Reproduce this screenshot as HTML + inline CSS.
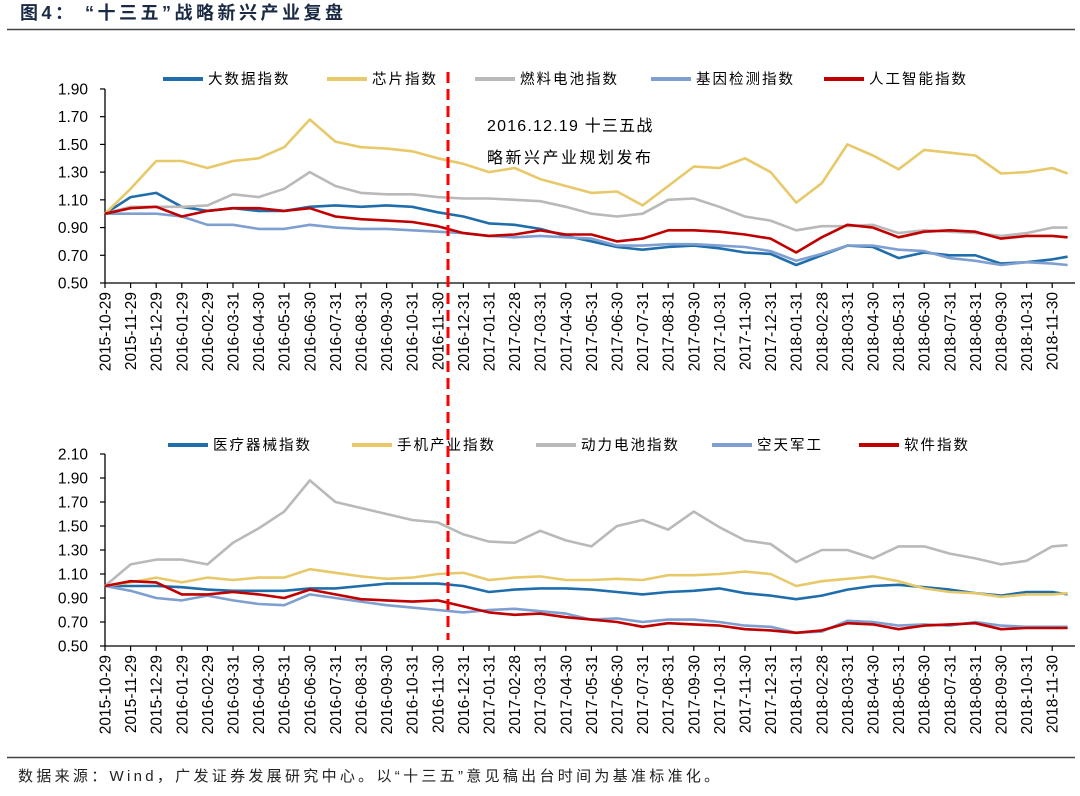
<!DOCTYPE html>
<html><head><meta charset="utf-8">
<style>
html,body{margin:0;padding:0;background:#fff;}
body{width:1080px;height:791px;overflow:hidden;font-family:"Liberation Sans","Noto Sans CJK SC",sans-serif;}
svg text{font-family:"Liberation Sans","Noto Sans CJK SC",sans-serif;}
</style></head>
<body>
<svg id="chart" width="1080" height="791" viewBox="0 0 1080 791" xmlns="http://www.w3.org/2000/svg">
<text x="20" y="19" font-size="18" font-weight="bold" fill="#1a2a44" letter-spacing="3.5">图4：  “十三五”战略新兴产业复盘</text>
<line x1="7" y1="29.5" x2="1075" y2="29.5" stroke="#444" stroke-width="1.5"/>
<line x1="7" y1="757.5" x2="1075" y2="757.5" stroke="#444" stroke-width="1.5"/>
<text x="18" y="781" font-size="15" fill="#222" letter-spacing="3.3">数据来源：Wind，广发证券发展研究中心。以“十三五”意见稿出台时间为基准标准化。</text>
<g id="top"></g>
<g id="bottom"></g>
<line x1="448" y1="72" x2="448" y2="640" stroke="#ff0000" stroke-width="3" stroke-dasharray="11,6"/>
<text x="487" y="131" font-size="16" fill="#000" letter-spacing="1.2">2016.12.19 十三五战</text>
<text x="487" y="163" font-size="16" fill="#000" letter-spacing="2.5">略新兴产业规划发布</text>
</svg>
<script>
const months = ["2015-10-29","2015-11-29","2015-12-29","2016-01-29","2016-02-29","2016-03-31","2016-04-30","2016-05-31","2016-06-30","2016-07-31","2016-08-31","2016-09-30","2016-10-31","2016-11-30","2016-12-31","2017-01-31","2017-02-28","2017-03-31","2017-04-30","2017-05-31","2017-06-30","2017-07-31","2017-08-31","2017-09-30","2017-10-31","2017-11-30","2017-12-31","2018-01-31","2018-02-28","2018-03-31","2018-04-30","2018-05-31","2018-06-30","2018-07-31","2018-08-31","2018-09-30","2018-10-31","2018-11-30"];
const endMonth = 37.6;
const topTicks = ["0.50","0.70","0.90","1.10","1.30","1.50","1.70","1.90"];
const bottomTicks = ["0.50","0.70","0.90","1.10","1.30","1.50","1.70","1.90","2.10"];

const bigData = [1.00,1.12,1.15,1.05,1.02,1.04,1.02,1.02,1.05,1.06,1.05,1.06,1.05,1.01,0.98,0.93,0.92,0.89,0.84,0.80,0.76,0.74,0.76,0.77,0.75,0.72,0.71,0.63,0.70,0.77,0.76,0.68,0.72,0.70,0.70,0.64,0.65,0.67,0.69];
const chip = [1.00,1.18,1.38,1.38,1.33,1.38,1.40,1.48,1.68,1.52,1.48,1.47,1.45,1.40,1.36,1.30,1.33,1.25,1.20,1.15,1.16,1.06,1.20,1.34,1.33,1.40,1.30,1.08,1.22,1.50,1.42,1.32,1.46,1.44,1.42,1.29,1.30,1.33,1.29];
const fuelCell = [1.00,1.05,1.05,1.05,1.06,1.14,1.12,1.18,1.30,1.20,1.15,1.14,1.14,1.12,1.11,1.11,1.10,1.09,1.05,1.00,0.98,1.00,1.10,1.11,1.05,0.98,0.95,0.88,0.91,0.91,0.92,0.86,0.88,0.87,0.86,0.84,0.86,0.90,0.90];
const gene = [1.00,1.00,1.00,0.98,0.92,0.92,0.89,0.89,0.92,0.90,0.89,0.89,0.88,0.87,0.86,0.84,0.83,0.84,0.83,0.82,0.77,0.77,0.78,0.78,0.77,0.76,0.73,0.66,0.71,0.77,0.77,0.74,0.73,0.68,0.66,0.63,0.65,0.64,0.63];
const ai = [1.00,1.04,1.05,0.98,1.02,1.04,1.04,1.02,1.04,0.98,0.96,0.95,0.94,0.91,0.86,0.84,0.85,0.88,0.85,0.85,0.80,0.82,0.88,0.88,0.87,0.85,0.82,0.72,0.83,0.92,0.90,0.83,0.87,0.88,0.87,0.82,0.84,0.84,0.83];

const medical = [1.00,1.00,1.00,0.99,0.97,0.96,0.96,0.96,0.98,0.98,1.00,1.02,1.02,1.02,1.00,0.95,0.97,0.98,0.98,0.97,0.95,0.93,0.95,0.96,0.98,0.94,0.92,0.89,0.92,0.97,1.00,1.01,0.99,0.97,0.94,0.92,0.95,0.95,0.93];
const phone = [1.00,1.03,1.07,1.03,1.07,1.05,1.07,1.07,1.14,1.11,1.08,1.06,1.07,1.10,1.11,1.05,1.07,1.08,1.05,1.05,1.06,1.05,1.09,1.09,1.10,1.12,1.10,1.00,1.04,1.06,1.08,1.04,0.98,0.95,0.94,0.91,0.93,0.93,0.94];
const battery = [1.00,1.18,1.22,1.22,1.18,1.36,1.48,1.62,1.88,1.70,1.65,1.60,1.55,1.53,1.43,1.37,1.36,1.46,1.38,1.33,1.50,1.55,1.47,1.62,1.49,1.38,1.35,1.20,1.30,1.30,1.23,1.33,1.33,1.27,1.23,1.18,1.21,1.33,1.34];
const aerospace = [1.00,0.96,0.90,0.88,0.92,0.88,0.85,0.84,0.93,0.90,0.87,0.84,0.82,0.80,0.78,0.80,0.81,0.79,0.77,0.72,0.73,0.70,0.72,0.72,0.70,0.67,0.66,0.61,0.62,0.71,0.70,0.67,0.68,0.67,0.70,0.67,0.66,0.66,0.66];
const software = [1.00,1.04,1.03,0.93,0.93,0.95,0.93,0.90,0.97,0.93,0.89,0.88,0.87,0.88,0.83,0.78,0.76,0.77,0.74,0.72,0.70,0.66,0.69,0.68,0.67,0.64,0.63,0.61,0.63,0.69,0.68,0.64,0.67,0.68,0.69,0.64,0.65,0.65,0.65];

const NS = "http://www.w3.org/2000/svg";
const C = {blue:"#1f6dab", yellow:"#e8c96a", gray:"#b9b9b9", light:"#7f9fd1", red:"#c00000"};
function el(tag, attrs, parent){const e=document.createElementNS(NS,tag);for(const k in attrs)e.setAttribute(k,attrs[k]);parent.appendChild(e);return e;}
function xScale(i){const t = i < months.length ? i : endMonth; return 105 + t*25.6;}

function drawPanel(g, cfg){
  const yScale = v => cfg.y0 - (v-0.5)*cfg.k;
  const ya = el("line",{x1:105,y1:yScale(parseFloat(cfg.ticks[cfg.ticks.length-1])),x2:105,y2:cfg.y0,stroke:"#000","stroke-width":1.3},g);
  
  
  cfg.ticks.forEach(t=>{
    const y = yScale(parseFloat(t));
    const tk = el("line",{x1:100,y1:y,x2:105,y2:y,stroke:"#000","stroke-width":1.2},g);
    
    
    const tx = el("text",{x:88,y:y+5.5,"font-size":15.5,"text-anchor":"end",fill:"#000"},g);
    tx.textContent = t;
    
    
  });
  const xa = el("line",{x1:105,y1:cfg.y0,x2:1075,y2:cfg.y0,stroke:"#000","stroke-width":1.3},g);
  
  
  months.forEach((m,i)=>{
    const x = xScale(i);
    const tk = el("line",{x1:x,y1:cfg.y0,x2:x,y2:cfg.y0+5,stroke:"#000","stroke-width":1.2},g);
    
    
    const tx = el("text",{x:0,y:0,"font-size":15.5,"text-anchor":"end",fill:"#000",transform:`translate(${x+5.5},${cfg.y0+9}) rotate(-90)`},g);
    tx.textContent = m;
    
    
  });
  cfg.series.forEach(s=>{
    const d = s.v.map((v,i)=>(i?"L":"M")+xScale(i).toFixed(1)+","+yScale(v).toFixed(1)).join(" ");
    const p = el("path",{d:d,fill:"none",stroke:s.c,"stroke-width":2.6,"stroke-linejoin":"round"},g);
    
    
  });
  cfg.series.forEach(s=>{
    const l = el("line",{x1:s.lx,y1:cfg.ly,x2:s.lx+40,y2:cfg.ly,stroke:s.c,"stroke-width":4},g);
    
    
    const t = el("text",{x:s.lx+45,y:cfg.ly+5,"font-size":14.5,fill:"#000","letter-spacing":2},g);
    t.textContent = s.label;
    
    
  });
}

drawPanel(document.getElementById("top"),{p:"top",y0:283,k:138.6,ticks:topTicks,ly:79,series:[
  {n:"big-data",label:"大数据指数",v:bigData,c:C.blue,lx:163},
  {n:"chip",label:"芯片指数",v:chip,c:C.yellow,lx:327},
  {n:"fuel-cell",label:"燃料电池指数",v:fuelCell,c:C.gray,lx:475},
  {n:"gene-test",label:"基因检测指数",v:gene,c:C.light,lx:651},
  {n:"ai",label:"人工智能指数",v:ai,c:C.red,lx:824}
]});
drawPanel(document.getElementById("bottom"),{p:"bottom",y0:646,k:120,ticks:bottomTicks,ly:445,series:[
  {n:"medical-device",label:"医疗器械指数",v:medical,c:C.blue,lx:168},
  {n:"phone-industry",label:"手机产业指数",v:phone,c:C.yellow,lx:352},
  {n:"power-battery",label:"动力电池指数",v:battery,c:C.gray,lx:536},
  {n:"aerospace-defense",label:"空天军工",v:aerospace,c:C.light,lx:712},
  {n:"software",label:"软件指数",v:software,c:C.red,lx:859}
]});
</script>
</body></html>
